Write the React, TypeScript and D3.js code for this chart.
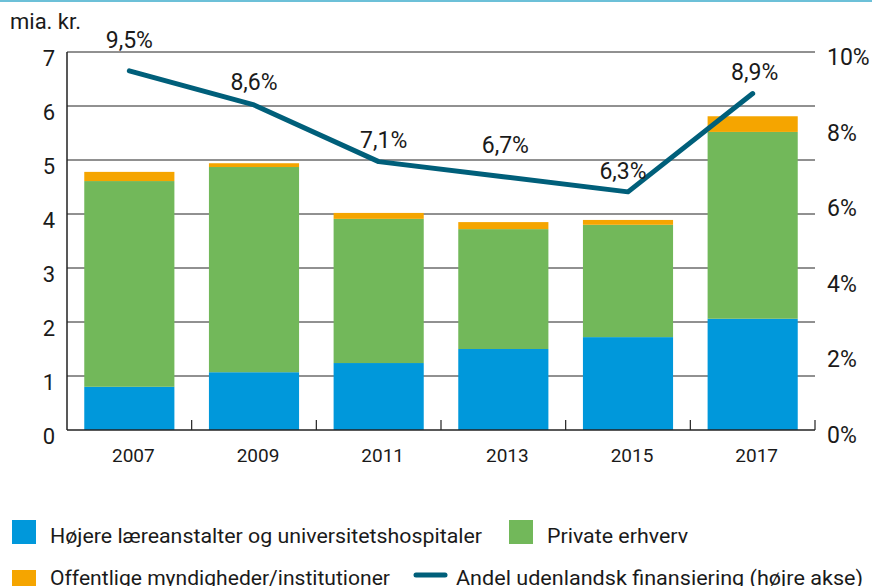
import React from "react";
import { scaleBand, scaleLinear, stack, line } from "d3";

const years = ["2007", "2009", "2011", "2013", "2015", "2017"];
const hojere = [0.8, 1.07, 1.24, 1.5, 1.72, 2.06];
const privat = [3.81, 3.8, 2.67, 2.22, 2.08, 3.46];
const offentlig = [0.17, 0.07, 0.11, 0.13, 0.09, 0.29];
const andel = [9.5, 8.6, 7.1, 6.7, 6.3, 8.9];
const andelLabels = ["9,5%", "8,6%", "7,1%", "6,7%", "6,3%", "8,9%"];
const leftTicks = [0, 1, 2, 3, 4, 5, 6, 7];
const rightTicks = [0, 2, 4, 6, 8, 10];

const seriesKeys = ["hojere", "privat", "offentlig"];
const seriesNames = [
  "Højere læreanstalter og universitetshospitaler",
  "Private erhverv",
  "Offentlige myndigheder/institutioner",
];
const lineName = "Andel udenlandsk finansiering  (højre akse)";
const seriesColors = ["#0098db", "#72b85a", "#f5a500"];
const lineColor = "#005f7a";
// small nudges so the % labels sit like in the original
const labelNudge = [
  [0, -23],
  [0, -15],
  [5, -14],
  [2, -24],
  [-5, -13],
  [2, -14],
];

const font = "Roboto, 'DejaVu Sans', sans-serif";

export default function App() {
  const width = 872,
    height = 586,
    marginLeft = 67,
    marginRight = 57,
    marginTop = 52,
    plotBottom = 430;

  const rows = years.map((y, i) => ({
    year: y,
    hojere: hojere[i],
    privat: privat[i],
    offentlig: offentlig[i],
  }));
  const stacked = stack<any>().keys(seriesKeys)(rows);

  const x = scaleBand()
    .domain(years)
    .range([marginLeft, width - marginRight])
    .paddingInner(0.277)
    .paddingOuter(0.1385);
  const y = scaleLinear().domain([0, 7]).range([plotBottom, marginTop]);
  const yRight = scaleLinear().domain([0, 10]).range([plotBottom, marginTop]);

  const step = x.step();
  const gap = step - x.bandwidth();
  const linePath = line<number>()
    .x((_, i) => x(years[i])! + x.bandwidth() / 2)
    .y(d => yRight(d))(andel);

  const xRight = width - marginRight;

  return (
    <svg
      width={width}
      height={height}
      style={{ position: "absolute", left: 0, top: 0, background: "#fff" }}
      fontFamily={font}
    >
      <rect x={0} y={0} width={width} height={2} fill="#6cc0d8" />
      <text x={10} y={29} fontSize={22} fill="#1a1a1a">
        mia. kr.
      </text>

      {leftTicks.slice(1).map(t => (
        <line
          key={t}
          x1={marginLeft}
          x2={xRight}
          y1={y(t)}
          y2={y(t)}
          stroke="#222"
          strokeWidth={1}
        />
      ))}

      {stacked.map((s, si) =>
        s.map((d, i) => (
          <rect
            key={si + "-" + i}
            x={x(years[i])}
            y={y(d[1])}
            width={x.bandwidth()}
            height={y(d[0]) - y(d[1])}
            fill={seriesColors[si]}
          />
        ))
      )}

      <line x1={marginLeft} x2={marginLeft} y1={marginTop} y2={plotBottom} stroke="#222" strokeWidth={1.5} />
      <line x1={marginLeft} x2={xRight} y1={plotBottom} y2={plotBottom} stroke="#222" strokeWidth={1.5} />
      {years.map(yr => (
        <line
          key={yr}
          x1={x(yr)! - gap / 2 + step}
          x2={x(yr)! - gap / 2 + step}
          y1={plotBottom}
          y2={plotBottom - 10}
          stroke="#222"
          strokeWidth={1.2}
        />
      ))}

      {leftTicks.map(t => (
        <text key={t} x={55} y={y(t) + 14} fontSize={22} textAnchor="end" fill="#1a1a1a">
          {t}
        </text>
      ))}
      {rightTicks.map(t => (
        <text key={t} x={827} y={yRight(t) + 13} fontSize={23} fill="#1a1a1a">
          {t + "%"}
        </text>
      ))}
      {years.map(yr => (
        <text
          key={yr}
          x={x(yr)! + x.bandwidth() / 2 + 4}
          y={462}
          fontSize={19}
          textAnchor="middle"
          fill="#1a1a1a"
        >
          {yr}
        </text>
      ))}

      <path
        d={linePath || ""}
        fill="none"
        stroke={lineColor}
        strokeWidth={5}
        strokeLinecap="round"
        strokeLinejoin="round"
      />
      {andel.map((v, i) => (
        <text
          key={i}
          x={x(years[i])! + x.bandwidth() / 2 + labelNudge[i][0]}
          y={yRight(v) + labelNudge[i][1]}
          fontSize={23}
          textAnchor="middle"
          fill="#1a1a1a"
        >
          {andelLabels[i]}
        </text>
      ))}

      <g fontSize={20} fill="#1a1a1a">
        <rect x={12} y={520} width={24} height={24} fill={seriesColors[0]} />
        <text x={50} y={543} textLength={432} lengthAdjust="spacingAndGlyphs">
          {seriesNames[0]}
        </text>
        <rect x={509} y={520} width={24} height={24} fill={seriesColors[1]} />
        <text x={547} y={543} textLength={141} lengthAdjust="spacingAndGlyphs">
          {seriesNames[1]}
        </text>
        <rect x={12} y={570} width={24} height={24} fill={seriesColors[2]} />
        <text x={50} y={585} textLength={340} lengthAdjust="spacingAndGlyphs">
          {seriesNames[2]}
        </text>
        <line x1={416} x2={445} y1={575} y2={575} stroke={lineColor} strokeWidth={5} strokeLinecap="round" />
        <text x={456} y={585} textLength={407} lengthAdjust="spacingAndGlyphs">
          {lineName}
        </text>
      </g>
    </svg>
  );
}
